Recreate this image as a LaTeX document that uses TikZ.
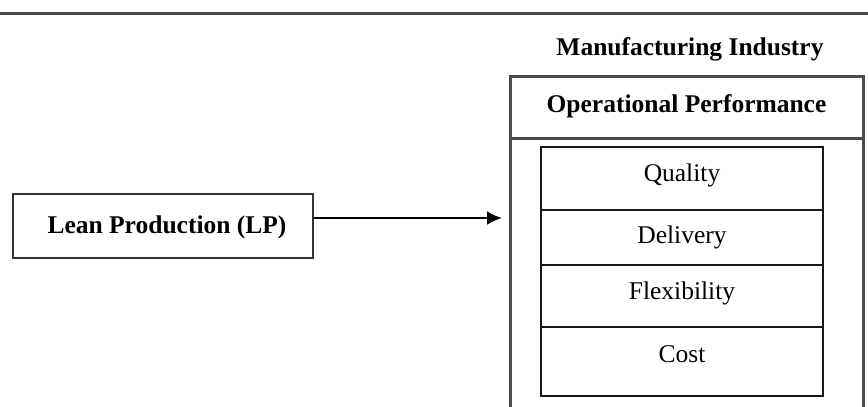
\documentclass[tikz,border=0pt]{standalone}
\usepackage{fontspec}
\setmainfont{Liberation Serif}
\usetikzlibrary{arrows.meta}
\begin{document}
\begin{tikzpicture}[x=1pt,y=-1pt,
  txt/.style={font=\fontsize{25.5}{28}\selectfont, inner sep=0pt, anchor=base},
  btxt/.style={txt, font=\fontsize{25.5}{28}\selectfont\bfseries},
  cell/.style={draw=black!90, line width=2.4pt, minimum width=282pt, inner sep=0pt, outer sep=0pt},
  outer/.style={draw=black!70, line width=3pt, outer sep=0pt},
  conn/.style={line width=2.4pt, -{Latex[length=15pt,width=14pt]}}]
\useasboundingbox (0,0) rectangle (868,407);
% top rule
\coordinate (ruleL) at (0,13.5);
\coordinate (ruleR) at (868,13.5);
\draw[black!70, line width=3.5pt] (ruleL) -- (ruleR);
% title
\node[btxt] (title) at (690,55) {Manufacturing Industry};
% outer box
\node[outer, minimum width=353pt, minimum height=62pt, inner sep=0pt] (head) at (686.5,107) {};
\node[btxt] (headtxt) at (686.5,112) {Operational Performance};
\coordinate (obl) at (510,409);
\coordinate (obr) at (863,409);
\draw[outer] (head.south west) -- (obl);
\draw[outer] (head.south east) -- (obr);
% inner cells
\node[cell, minimum height=63pt] (q) at (682,178.5) {};
\node[cell, minimum height=55pt] (d) at (682,237.5) {};
\node[cell, minimum height=62pt] (f) at (682,296) {};
\node[cell, minimum height=69pt] (c) at (682,361.5) {};
\node[txt] (qt) at (682,181) {Quality};
\node[txt] (dt) at (682,243) {Delivery};
\node[txt] (ft) at (682,299) {Flexibility};
\node[txt] (ct) at (682,362) {Cost};
% lean production
\node[draw=black!80, line width=2.4pt, minimum width=300pt, minimum height=64pt, inner sep=0pt] (lp) at (163,226) {};
\node[btxt] (lpt) at (167,233) {Lean Production (LP)};
\coordinate (tip) at (502,218);
\draw[conn] (lp.east |- tip) -- (tip);
\end{tikzpicture}
\end{document}
